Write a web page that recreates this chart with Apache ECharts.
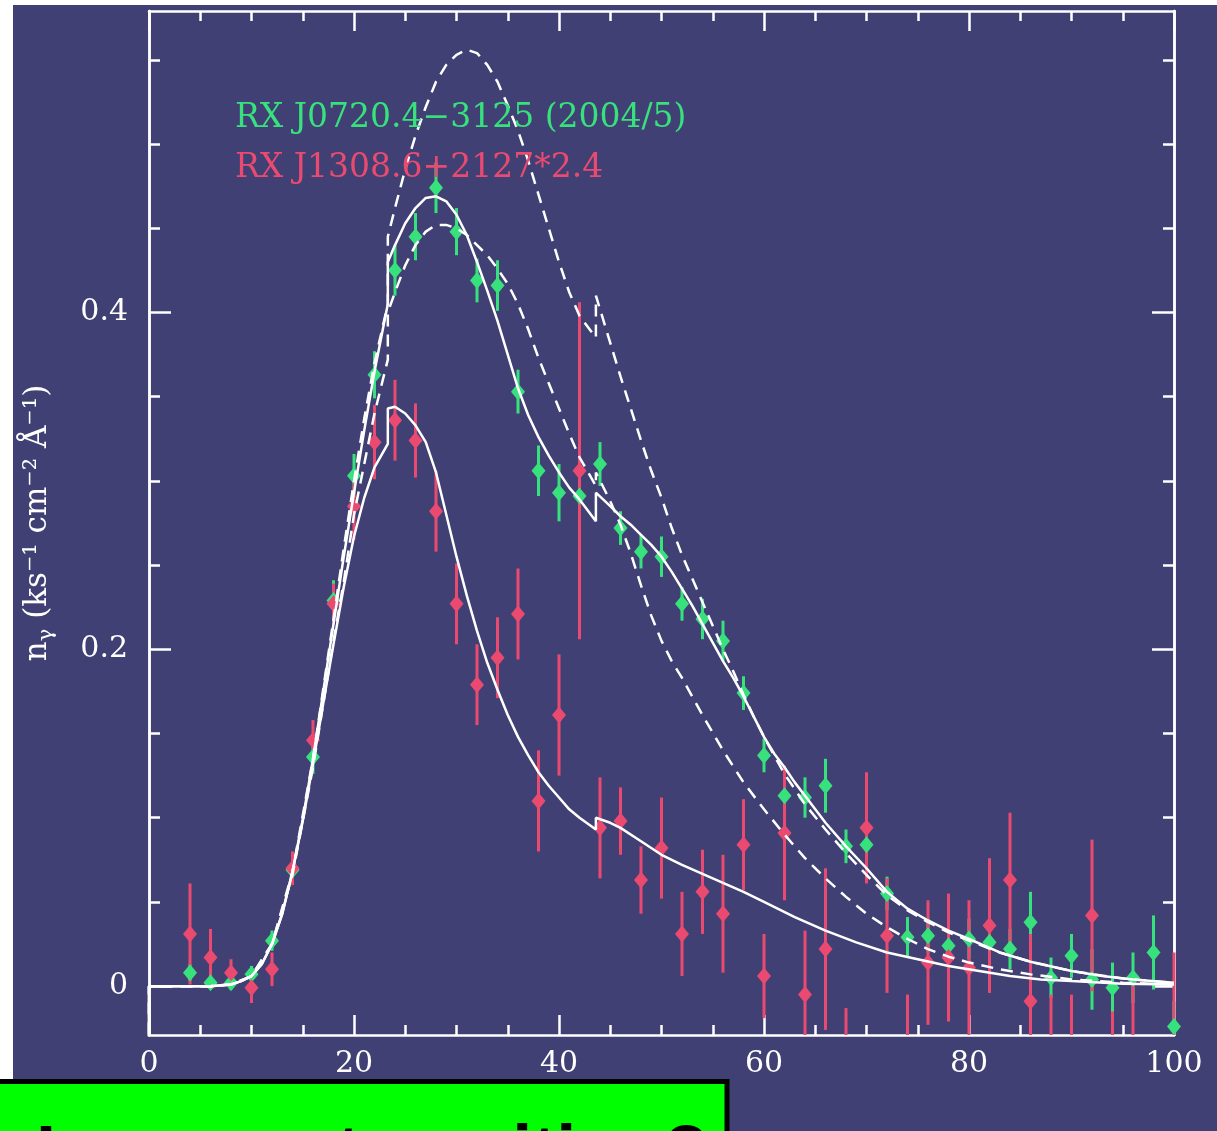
<!DOCTYPE html>
<html>
<head>
<meta charset="utf-8">
<script src="https://cdn.jsdelivr.net/npm/echarts@6/dist/echarts.min.js"></script>
<style>
  html, body { margin: 0; padding: 0; background: #ffffff; overflow: hidden; }
  #chart { width: 1217px; height: 1131px; }
</style>
</head>
<body>
<div id="chart"></div>
<script>
// Wavelength bins (Å)
const binX = [4, 6, 8, 10, 12, 14, 16, 18, 20, 22, 24, 26, 28, 30, 32, 34, 36, 38, 40, 42,
  44, 46, 48, 50, 52, 54, 56, 58, 60, 62, 64, 66, 68, 70, 72, 74, 76, 78, 80, 82,
  84, 86, 88, 90, 92, 94, 96, 98, 100];

// RX J0720.4-3125 (2004/5) photon flux and 1-sigma errors
const j0720Flux = [0.008, 0.002, 0.002, 0.007, 0.027, 0.069, 0.136, 0.229, 0.303, 0.363,
  0.425, 0.445, 0.474, 0.448, 0.419, 0.416, 0.353, 0.306, 0.293, 0.291,
  0.310, 0.272, 0.258, 0.255, 0.227, 0.218, 0.205, 0.174, 0.137, 0.113,
  0.112, 0.119, 0.083, 0.084, 0.055, 0.029, 0.030, 0.024, 0.028, 0.026,
  0.022, 0.038, 0.005, 0.018, 0.004, -0.001, 0.005, 0.020, -0.024];
const j0720Err = [0.005, 0.004, 0.004, 0.005, 0.006, 0.008, 0.010, 0.012, 0.013, 0.014,
  0.015, 0.014, 0.015, 0.014, 0.013, 0.015, 0.013, 0.015, 0.017, 0.012,
  0.013, 0.010, 0.010, 0.012, 0.010, 0.012, 0.012, 0.010, 0.010, 0.012,
  0.012, 0.016, 0.010, 0.010, 0.010, 0.012, 0.010, 0.010, 0.012, 0.012,
  0.012, 0.018, 0.012, 0.013, 0.018, 0.015, 0.015, 0.022, 0.015];

// RX J1308.6+2127 photon flux (scaled by 2.4) and errors
const j1308Flux = [0.031, 0.017, 0.008, -0.001, 0.010, 0.070, 0.146, 0.227, 0.285, 0.323,
  0.336, 0.324, 0.282, 0.227, 0.179, 0.195, 0.221, 0.110, 0.161, 0.306,
  0.094, 0.098, 0.063, 0.082, 0.031, 0.056, 0.043, 0.084, 0.006, 0.091,
  -0.005, 0.022, -0.050, 0.094, 0.030, -0.045, 0.014, 0.017, 0.011, 0.036,
  0.063, -0.009, -0.040, -0.045, 0.042, -0.045, -0.035, -0.060, -0.040];
const j1308Err = [0.030, 0.017, 0.008, 0.009, 0.010, 0.010, 0.012, 0.012, 0.020, 0.022,
  0.024, 0.022, 0.024, 0.024, 0.024, 0.024, 0.027, 0.030, 0.036, 0.100,
  0.030, 0.020, 0.020, 0.030, 0.025, 0.025, 0.035, 0.027, 0.025, 0.040,
  0.038, 0.048, 0.037, 0.033, 0.034, 0.040, 0.037, 0.038, 0.040, 0.040,
  0.040, 0.040, 0.035, 0.040, 0.045, 0.030, 0.040, 0.030, 0.060];

// Model spectra: [wavelength, flux]; repeated wavelengths are the absorption edges
const fitJ0720 = [[0, -0.1], [0, 0], [6, 0], [8, 0.001], [9, 0.003], [10, 0.006], [11, 0.013], [12, 0.025],
  [13, 0.043], [14, 0.068], [15, 0.099], [16, 0.135], [17, 0.175], [18, 0.215], [19, 0.255], [20, 0.293],
  [21, 0.33], [22, 0.365], [23.3, 0.405], [23.3, 0.43], [24, 0.44], [25, 0.453], [26, 0.462], [27, 0.468],
  [28, 0.469], [29, 0.466], [30, 0.458], [31, 0.446], [32, 0.43], [33, 0.413], [34, 0.395], [35, 0.375],
  [36, 0.355], [37, 0.339], [38, 0.326], [39, 0.315], [40, 0.305], [41, 0.296], [42, 0.289], [43.6, 0.276],
  [43.6, 0.293], [45, 0.285], [46, 0.279], [47, 0.274], [48, 0.268], [49, 0.262], [50, 0.255], [51, 0.246],
  [52, 0.236], [53, 0.226], [54, 0.215], [55, 0.204], [56, 0.193], [57, 0.183], [58, 0.172], [59, 0.16],
  [60, 0.148], [61, 0.138], [62, 0.13], [63, 0.121], [64, 0.113], [66, 0.097], [68, 0.083], [70, 0.07],
  [72, 0.056], [74, 0.046], [76, 0.039], [78, 0.033], [80, 0.028], [83, 0.02], [86, 0.0145], [90, 0.009],
  [93, 0.006], [96, 0.004], [100, 0.002]];

const fitJ1308 = [[0, -0.1], [0, 0], [6, 0], [8, 0.001], [9, 0.003], [10, 0.006], [11, 0.013], [12, 0.025],
  [13, 0.043], [14, 0.068], [15, 0.098], [16, 0.132], [17, 0.168], [18, 0.203], [19, 0.237], [20, 0.267],
  [21, 0.29], [22, 0.308], [23.3, 0.322], [23.3, 0.343], [24, 0.344], [25, 0.34], [26, 0.333], [27, 0.323],
  [28, 0.305], [29, 0.28], [30, 0.255], [31, 0.232], [32, 0.211], [33, 0.192], [34, 0.176], [35, 0.161],
  [36, 0.148], [37, 0.137], [38, 0.127], [39, 0.119], [40, 0.112], [41, 0.105], [42, 0.1], [43.6, 0.093],
  [43.6, 0.1], [45, 0.097], [46, 0.094], [48, 0.086], [50, 0.078], [52, 0.072], [55, 0.064], [58, 0.056],
  [60, 0.05], [63, 0.041], [66, 0.033], [69, 0.026], [72, 0.02], [75, 0.016], [78, 0.012], [81, 0.009],
  [84, 0.006], [87, 0.004], [90, 0.003], [95, 0.0015], [100, 0.001]];

const modelLow = [[0, -0.1], [0, 0], [6, 0], [8, 0.001], [10, 0.006], [12, 0.025], [14, 0.066], [16, 0.13],
  [18, 0.205], [19, 0.24], [20, 0.28], [21, 0.31], [22, 0.34], [23.3, 0.372], [23.3, 0.4], [24, 0.412],
  [25, 0.428], [26, 0.44], [27, 0.448], [28, 0.452], [29, 0.452], [30, 0.45], [31, 0.446], [32, 0.44],
  [33, 0.434], [34, 0.426], [35, 0.417], [36, 0.405], [37, 0.39], [38, 0.373], [39, 0.358], [40, 0.343],
  [41, 0.328], [42, 0.314], [43.6, 0.297], [43.6, 0.305], [45, 0.288], [46, 0.274], [47, 0.257], [48, 0.238],
  [49, 0.22], [50, 0.205], [51, 0.193], [52, 0.183], [53, 0.172], [54, 0.161], [56, 0.14], [58, 0.121],
  [60, 0.105], [62, 0.09], [64, 0.076], [66, 0.064], [68, 0.053], [70, 0.043], [72, 0.035], [74, 0.028],
  [76, 0.022], [78, 0.0175], [80, 0.014], [83, 0.01], [86, 0.007], [90, 0.004], [95, 0.002], [100, 0.001]];

const modelHigh = [[0, -0.1], [0, 0], [6, 0], [8, 0.001], [10, 0.006], [12, 0.025], [14, 0.068], [16, 0.135],
  [18, 0.218], [19, 0.26], [20, 0.3], [21, 0.337], [22, 0.37], [23.3, 0.405], [23.3, 0.445], [24, 0.462],
  [25, 0.485], [26, 0.505], [27, 0.522], [28, 0.537], [29, 0.547], [30, 0.553], [31, 0.556], [32, 0.554],
  [33, 0.547], [34, 0.537], [35, 0.523], [36, 0.508], [37, 0.49], [38, 0.47], [39, 0.45], [40, 0.43],
  [41, 0.412], [42, 0.398], [43.6, 0.385], [43.6, 0.41], [45, 0.382], [46, 0.362], [47, 0.343], [48, 0.324],
  [49, 0.306], [50, 0.29], [51, 0.272], [52, 0.256], [53, 0.242], [54, 0.228], [55, 0.214], [56, 0.2],
  [57, 0.187], [58, 0.173], [59, 0.16], [60, 0.148], [62, 0.126], [64, 0.108], [66, 0.093], [68, 0.079],
  [70, 0.066], [72, 0.054], [74, 0.045], [76, 0.038], [78, 0.032], [80, 0.027], [83, 0.02], [86, 0.0145],
  [90, 0.009], [95, 0.0045], [100, 0.002]];

// Axis ticks
const xMin = 0, xMax = 100, xStep = 20;
const yMin = -0.029, yMax = 0.579;
const yLabelTicks = [0, 0.2, 0.4];
const yMinorTicks = [0.05, 0.1, 0.15, 0.25, 0.3, 0.35, 0.45, 0.5, 0.55];

const legendLines = ['RX J0720.4\u22123125 (2004/5)', 'RX J1308.6+2127*2.4'];
const caption = 'Is a new transition?';

const GREEN = '#37e27d';
const RED = '#ea4a70';
const PANEL = '#404074';
const SERIF = '"DejaVu Serif", "Liberation Serif", serif';

function errorBars(color) {
  return function (params, api) {
    const x = api.value(0);
    const top = api.coord([x, api.value(2)]);
    const bot = api.coord([x, api.value(1)]);
    const cs = params.coordSys;
    const y1 = Math.max(top[1], cs.y);
    const y2 = Math.min(bot[1], cs.y + cs.height);
    if (y2 <= y1) return null;
    return {
      type: 'line',
      shape: { x1: top[0], y1: y1, x2: top[0], y2: y2 },
      style: { stroke: color, lineWidth: 3 }
    };
  };
}

const barData = (ys, es) => binX.map((x, i) => [x, ys[i] - es[i], ys[i] + es[i]]);
const ptData = ys => binX.map((x, i) => [x, ys[i]]);

const lineWhite = { color: '#ffffff', width: 2.5 };
const tickWhite = { color: '#ffffff', width: 2.5 };

function xAxisDef(pos) {
  return {
    type: 'value', position: pos, min: xMin, max: xMax, interval: xStep,
    axisLine: { show: true, onZero: false, lineStyle: lineWhite },
    axisTick: { show: true, inside: true, length: 20, lineStyle: tickWhite },
    minorTick: { show: true, splitNumber: 4, length: 10, lineStyle: tickWhite },
    splitLine: { show: false },
    axisLabel: pos === 'bottom'
      ? { show: true, color: '#ffffff', fontFamily: SERIF, fontSize: 30, margin: 14 }
      : { show: false }
  };
}

function yAxisDef(pos, major) {
  const ax = {
    type: 'value', position: pos, min: yMin, max: yMax,
    axisLine: { show: true, onZero: false, lineStyle: lineWhite },
    axisTick: {
      show: true, inside: true, length: major ? 22 : 11,
      customValues: major ? yLabelTicks : yMinorTicks, lineStyle: tickWhite
    },
    splitLine: { show: false },
    axisLabel: { show: false }
  };
  if (major && pos === 'left') {
    ax.axisLabel = {
      show: true, customValues: yLabelTicks, color: '#ffffff', fontFamily: SERIF,
      fontSize: 30, margin: 21,
      formatter: v => (v === 0 ? '0' : v.toFixed(1))
    };
    // photon flux density, with a subscript gamma and superscript exponents
    ax.name = '{a|n}{sub|\u03b3}{a| (ks\u207b\u00b9 cm\u207b\u00b2 \u00c5\u207b\u00b9)}';
    ax.nameLocation = 'middle';
    ax.nameRotate = 90;
    ax.nameGap = 92;
    ax.nameTextStyle = {
      color: '#ffffff',
      rich: {
        a: { fontFamily: SERIF, fontSize: 31, color: '#ffffff', lineHeight: 38 },
        sub: { fontFamily: SERIF, fontSize: 21, color: '#ffffff', lineHeight: 24, verticalAlign: 'bottom' }
      }
    };
  }
  return ax;
}

function modelLine(data, dashed) {
  return {
    type: 'line', data: data, showSymbol: false, smooth: false, z: 5,
    lineStyle: { color: '#ffffff', width: 2.5, type: dashed ? [12, 8] : 'solid' },
    silent: true, animation: false
  };
}

const chart = echarts.init(document.getElementById('chart'), null, { renderer: 'canvas' });
chart.setOption({
  animation: false,
  backgroundColor: 'transparent',
  grid: { left: 149, top: 11, width: 1025, height: 1024, outerBoundsMode: 'none', containLabel: false },
  xAxis: [xAxisDef('bottom'), xAxisDef('top')],
  yAxis: [yAxisDef('left', true), yAxisDef('left', false), yAxisDef('right', true), yAxisDef('right', false)],
  graphic: {
    elements: [
      { type: 'rect', z: -100, silent: true,
        shape: { x: 13, y: 5, width: 1210, height: 1130 }, style: { fill: PANEL } },
      { type: 'text', z: 50, silent: true, x: 235, y: 118,
        style: { text: legendLines[0], fill: GREEN, font: '33px ' + SERIF, verticalAlign: 'middle' } },
      { type: 'text', z: 50, silent: true, x: 235, y: 168,
        style: { text: legendLines[1], fill: RED, font: '33px ' + SERIF, verticalAlign: 'middle' } },
      { type: 'rect', z: 100, silent: true,
        shape: { x: -10, y: 1081.5, width: 737, height: 80 },
        style: { fill: '#00ff00', stroke: '#000000', lineWidth: 5 } },
      { type: 'text', z: 101, silent: true, x: 36, y: 1192,
        style: { text: caption, fill: '#000000', font: 'bold 72px "Liberation Sans", Arial, sans-serif',
                 verticalAlign: 'bottom' } }
    ]
  },
  series: [
    { type: 'custom', renderItem: errorBars(GREEN), data: barData(j0720Flux, j0720Err), z: 2, silent: true },
    { type: 'scatter', data: ptData(j0720Flux), symbol: 'diamond', symbolSize: [14, 17],
      itemStyle: { color: GREEN, opacity: 1 }, z: 3, silent: true },
    { type: 'custom', renderItem: errorBars(RED), data: barData(j1308Flux, j1308Err), z: 3, silent: true },
    { type: 'scatter', data: ptData(j1308Flux), symbol: 'diamond', symbolSize: [14, 17],
      itemStyle: { color: RED, opacity: 1 }, z: 4, silent: true },
    modelLine(fitJ0720, false),
    modelLine(fitJ1308, false),
    modelLine(modelLow, true),
    modelLine(modelHigh, true)
  ]
});
</script>
</body>
</html>
